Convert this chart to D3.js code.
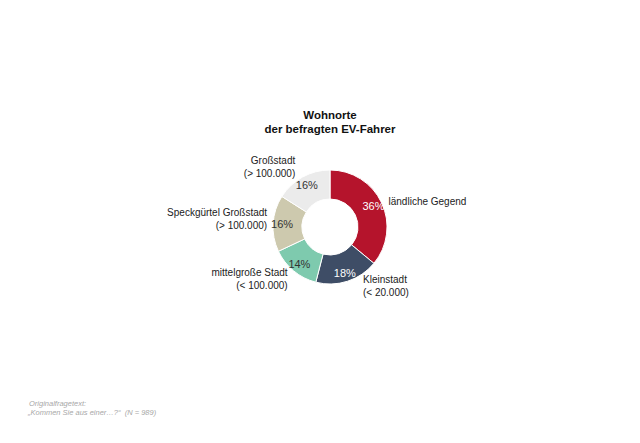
<!DOCTYPE html>
<html>
<head>
<meta charset="utf-8">
<script src="https://cdn.jsdelivr.net/npm/d3@7"></script>
<style>
  body { margin: 0; background: #fff; }
  svg { display: block; font-family: "Liberation Sans", Arial, sans-serif; }
</style>
</head>
<body>
<svg id="chart" width="640" height="443"></svg>
<script>
// data
var categories = ['ländliche Gegend', 'Kleinstadt', 'mittelgroße Stadt', 'Speckgürtel Großstadt', 'Großstadt'];
var subLabels = ['', '(< 20.000)', '(< 100.000)', '(> 100.000)', '(> 100.000)'];
var shares = [36, 18, 14, 16, 16];
var colors = ['#b5142c', '#3e4d66', '#7ecaae', '#cdc9ae', '#ebebeb'];
var pctColors = ['#ffffff', '#ffffff', '#333333', '#333333', '#333333'];

var svg = d3.select('#chart');
var cx = 330, cy = 227;
var outerR = 57, innerR = 28;

// title
svg.append('text').attr('x', 330).attr('y', 119).attr('text-anchor', 'middle')
    .attr('font-size', 11.5).attr('font-weight', 'bold').attr('fill', '#111').text('Wohnorte');
svg.append('text').attr('x', 330).attr('y', 133).attr('text-anchor', 'middle')
    .attr('font-size', 11.5).attr('font-weight', 'bold').attr('fill', '#111').text('der befragten EV-Fahrer');

var data = categories.map(function(c, i) {
    return { name: c, sub: subLabels[i], value: shares[i], color: colors[i], pctColor: pctColors[i] };
});

var pie = d3.pie().value(function(d) { return d.value; }).sort(null);
var arc = d3.arc().innerRadius(innerR).outerRadius(outerR);
var pctArc = d3.arc().innerRadius(48).outerRadius(48);
var labelArc = d3.arc().innerRadius(68).outerRadius(68);

var g = svg.append('g').attr('transform', 'translate(' + cx + ',' + cy + ')');
var arcs = pie(data);

g.selectAll('path').data(arcs).enter().append('path')
    .attr('d', arc)
    .attr('fill', function(d) { return d.data.color; })
    .attr('stroke', '#fff').attr('stroke-width', 1);

g.selectAll('.pct').data(arcs).enter().append('text')
    .attr('class', 'pct')
    .attr('transform', function(d) { return 'translate(' + pctArc.centroid(d) + ')'; })
    .attr('text-anchor', 'middle').attr('dy', '0.35em')
    .attr('font-size', 11).attr('fill', function(d) { return d.data.pctColor; })
    .text(function(d) { return d.data.value + '%'; });

// small nudges so the outside labels sit like the original
var nudge = [[-3, 3], [12, -6], [1, 0], [5, -4], [-2, 0]];

var lab = g.selectAll('.lab').data(arcs).enter().append('text')
    .attr('class', 'lab')
    .attr('font-size', 10).attr('fill', '#222')
    .attr('text-anchor', function(d) {
        return (d.startAngle + d.endAngle) / 2 < Math.PI ? 'start' : 'end';
    })
    .attr('transform', function(d, i) {
        var p = labelArc.centroid(d);
        return 'translate(' + (p[0] + nudge[i][0]) + ',' + (p[1] + nudge[i][1]) + ')';
    });
lab.each(function(d) {
    var t = d3.select(this);
    var lines = d.data.sub ? [d.data.name, d.data.sub] : [d.data.name];
    var y0 = lines.length === 2 ? -3 : 3.5;
    lines.forEach(function(l, k) {
        t.append('tspan').attr('x', 0).attr('y', y0 + k * 13).text(l);
    });
});

// footnote
svg.append('text').attr('x', 29).attr('y', 406).attr('font-size', 7.5)
    .attr('font-style', 'italic').attr('fill', '#a8a8a8').text('Originalfragetext:');
svg.append('text').attr('x', 28).attr('y', 415).attr('font-size', 7.5)
    .attr('font-style', 'italic').attr('fill', '#a8a8a8').attr('xml:space', 'preserve')
    .text('„Kommen Sie aus einer…?“  (N = 989)');
</script>
</body>
</html>
